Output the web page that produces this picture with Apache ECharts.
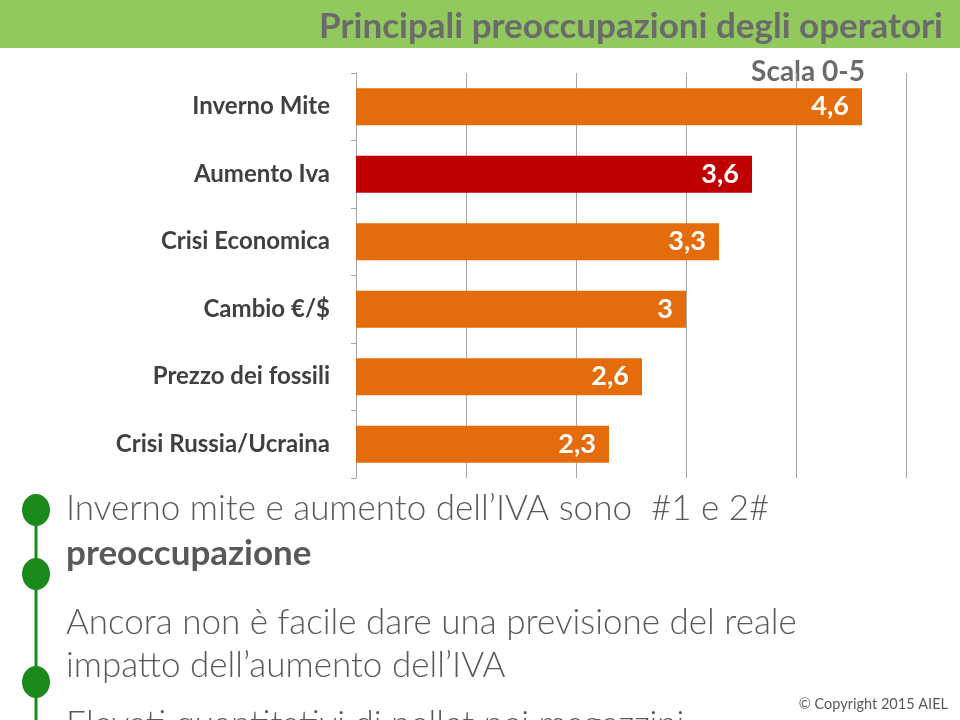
<!DOCTYPE html>
<html>
<head>
<meta charset="utf-8">
<script src="https://cdn.jsdelivr.net/npm/echarts@6/dist/echarts.min.js"></script>
<style>
  html, body { margin: 0; padding: 0; background: #fff; }
  #main { width: 960px; height: 720px; }
</style>
</head>
<body>
<div id="main"></div>
<script>
// categorie e valori (scala 0-5)
var categorie = ['Inverno Mite', 'Aumento Iva', 'Crisi Economica', 'Cambio €/$', 'Prezzo dei fossili', 'Crisi Russia/Ucraina']
var valori = [4.6, 3.6, 3.3, 3, 2.6, 2.3]
var evidenziata = 'Aumento Iva'

var arancio = '#e46c0a'
var rosso = '#c00000'
var verde = '#1a8a1a'
var grigio = '#595959'
var font = 'Lato, "Noto Sans", sans-serif'

var mChart = echarts.init(document.getElementById('main'))

var option = {
  backgroundColor: '#fff',
  animation: false,
  title: {
    text: 'Principali preoccupazioni degli operatori',
    right: 12,
    top: 4,
    textStyle: {
      fontFamily: font,
      fontWeight: 'bold',
      fontSize: 35,
      color: '#6b6b6b'
    }
  },
  grid: {
    left: 356,
    right: 54,
    top: 73,
    bottom: 242
  },
  xAxis: {
    type: 'value',
    min: 0,
    max: 5,
    interval: 1,
    axisLine: { show: false },
    axisTick: { show: false },
    axisLabel: { show: false },
    splitLine: { lineStyle: { color: '#a6a6a6', width: 1 } }
  },
  yAxis: {
    type: 'category',
    inverse: true,
    data: categorie,
    axisLine: { lineStyle: { color: '#a6a6a6' } },
    axisTick: { show: true, length: 5, lineStyle: { color: '#a6a6a6' } },
    axisLabel: {
      margin: 26,
      fontFamily: font,
      fontWeight: 'bold',
      fontSize: 24,
      color: '#404040'
    }
  },
  series: [
    {
      type: 'bar',
      barWidth: 37,
      data: valori.map(function (v, i) {
        return {
          value: v,
          itemStyle: { color: categorie[i] === evidenziata ? rosso : arancio }
        }
      }),
      label: {
        show: true,
        position: 'insideRight',
        distance: 13,
        color: '#fff',
        fontFamily: font,
        fontWeight: 'bold',
        fontSize: 27,
        formatter: function (p) {
          return String(p.value).replace('.', ',')
        }
      }
    }
  ],
  graphic: [
    // fascia verde del titolo
    {
      type: 'rect',
      z: -1,
      shape: { x: 0, y: 0, width: 960, height: 48 },
      style: { fill: '#92c95f' }
    },
    {
      type: 'text',
      right: 95,
      top: 58,
      style: {
        text: 'Scala 0-5',
        font: 'bold 28px ' + font,
        fill: '#6b6b6b'
      }
    },
    // linea e punti elenco
    {
      type: 'line',
      shape: { x1: 36, y1: 512, x2: 36, y2: 720 },
      style: { stroke: verde, lineWidth: 3 }
    },
    { type: 'ellipse', shape: { cx: 36, cy: 510, rx: 14, ry: 16 }, style: { fill: verde } },
    { type: 'ellipse', shape: { cx: 36, cy: 574, rx: 14, ry: 16 }, style: { fill: verde } },
    { type: 'ellipse', shape: { cx: 36, cy: 682, rx: 14, ry: 16 }, style: { fill: verde } },
    {
      type: 'text',
      left: 66,
      top: 491,
      style: {
        text: 'Inverno mite e aumento dell\u2019IVA sono  #1 e 2#',
        font: '300 35px ' + font,
        fill: grigio
      }
    },
    {
      type: 'text',
      left: 66,
      top: 536,
      style: {
        text: 'preoccupazione',
        font: 'bold 35px ' + font,
        fill: grigio
      }
    },
    {
      type: 'text',
      left: 66,
      top: 605,
      style: {
        text: 'Ancora non è facile dare una previsione del reale',
        font: '300 35px ' + font,
        fill: grigio
      }
    },
    {
      type: 'text',
      left: 66,
      top: 648,
      style: {
        text: 'impatto dell\u2019aumento dell\u2019IVA',
        font: '300 35px ' + font,
        fill: grigio
      }
    },
    {
      type: 'text',
      left: 66,
      top: 707,
      style: {
        text: 'Elevati quantitativi di pellet nei magazzini',
        font: '300 35px ' + font,
        fill: grigio
      }
    },
    {
      type: 'text',
      right: 12,
      top: 697,
      style: {
        text: '© Copyright 2015 AIEL',
        font: '14.5px ' + font,
        fill: grigio
      }
    }
  ]
}

mChart.setOption(option)
</script>
</body>
</html>
